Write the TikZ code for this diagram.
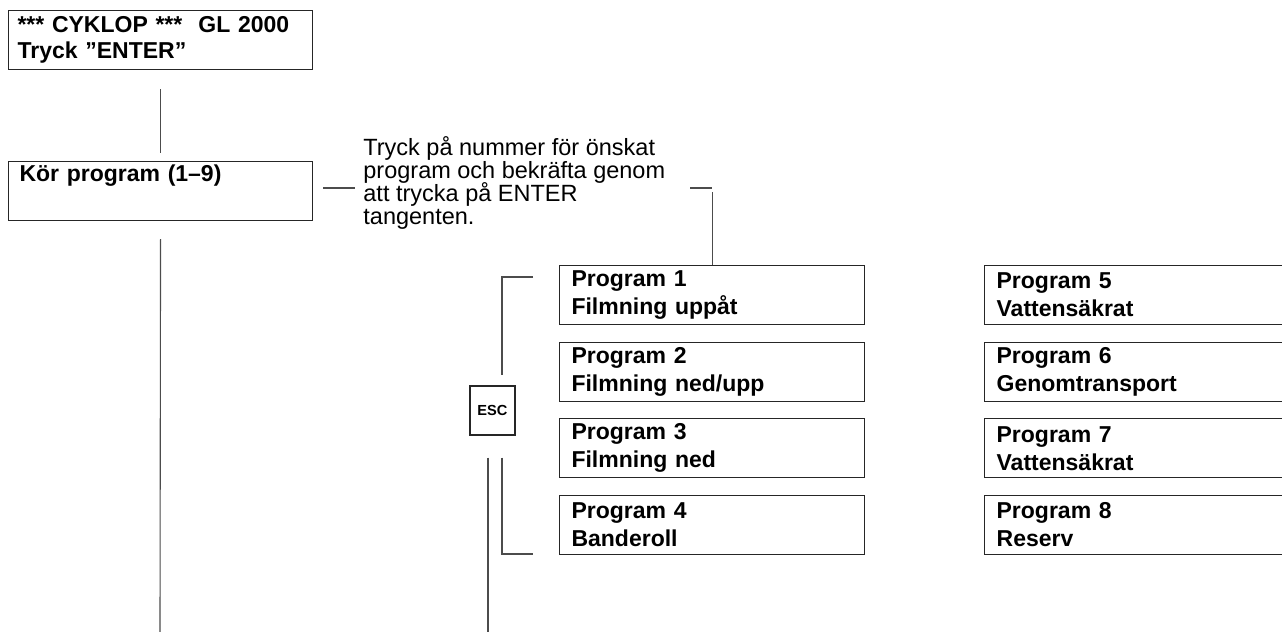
\documentclass[tikz,border=0pt]{standalone}
\usepackage{fontspec}
\setmainfont{Liberation Sans}
\usetikzlibrary{positioning}
\newcommand\hintfont{\fontsize{11.75}{11.5}\selectfont\setlength{\lineskiplimit}{-6pt}}

\begin{document}
\begin{tikzpicture}[x=0.5pt, y=-0.5pt,
        % Define styles for the menu diagram
        menubox/.style={draw=black!85, line width=0.55pt, rectangle, anchor=north west, align=left, inner ysep=0pt, minimum height=29.5pt, font=\fontsize{11.5}{14}\selectfont\bfseries},
        titlebox/.style={menubox, text width=143pt, inner xsep=4.5pt, font=\fontsize{11.5}{13}\selectfont\bfseries},
        korbox/.style={menubox, text width=141pt, inner xsep=5.5pt},
        progbox/.style={menubox, text width=140.5pt, inner xsep=6pt},
        keybox/.style={draw=black!85, line width=0.55pt, rectangle, minimum width=22.5pt, minimum height=24.5pt, inner sep=0pt, font=\fontsize{7.3}{8}\selectfont\bfseries},
        hinttext/.style={anchor=north west, align=left, inner sep=0pt, font=\hintfont},
        link/.style={draw=black!70, line width=0.55pt}
    ]
    \useasboundingbox (0,0) rectangle (1282,632);

    % --- MAIN MENU ---
    \node[titlebox] (cyklop) at (8,10) {*** CYKLOP ***\hspace{8pt}GL 2000\\Tryck ”ENTER”};
    \node[korbox] (korprog) at (8,161) {Kör program (1–9)\\\strut};

    % Hint text
    \node[hinttext] (hint) at (363,136) {Tryck på nummer för önskat\\program och bekräfta genom\\att trycka på ENTER\\tangenten.};

    % --- PROGRAMS ---
    % Left column
    \node[progbox] (p1) at (559,265) {Program 1\\Filmning uppåt};
    \node[progbox, below=8.25pt of p1] (p2) {Program 2\\Filmning ned/upp};
    \node[progbox, below=8.25pt of p2] (p3) {Program 3\\Filmning ned};
    \node[progbox, below=8.25pt of p3] (p4) {Program 4\\Banderoll};

    % Right column
    \node[progbox, text width=137pt, right=59.5pt of p1] (p5) {Program 5\\Vattensäkrat};
    \node[progbox, text width=137pt, below=8.25pt of p5] (p6) {Program 6\\Genomtransport};
    \node[progbox, text width=137pt, below=8.25pt of p6] (p7) {Program 7\\Vattensäkrat};
    \node[progbox, text width=137pt, below=8.25pt of p7] (p8) {Program 8\\Reserv};

    % ESC key
    \node[keybox] (esc) at (492.5,410.5) {ESC};

    % --- CONNECTIONS ---
    \coordinate (korend) at (160,632);
    \coordinate (escend) at (488,632);
    \coordinate (dashL) at (323,188);
    \coordinate (dashR) at (690,188);
    \coordinate (brtop) at (533,277);
    \coordinate (brbot) at (533,554);

    % Main menu line
    \draw[link] ([yshift=-9.5pt]cyklop.south) -- ([yshift=4pt]korprog.north);
    \draw[link] ([yshift=-9pt]korprog.south) -- (korend);

    % Hint dashes down to Program 1
    \draw[link] (dashL) -- ++(32,0);
    \draw[link] (dashR) -- ++(22,0);
    \draw[link] ([yshift=36.5pt]p1.north) -- (p1.north);

    % ESC bracket
    \draw[link] (brtop) -| ([xshift=4.75pt, yshift=5pt]esc.north);
    \draw[link] ([xshift=4.75pt, yshift=-11pt]esc.south) |- (brbot);
    \draw[link] ([xshift=-2.25pt, yshift=-11pt]esc.south) -- (escend);

\end{tikzpicture}
\end{document}
